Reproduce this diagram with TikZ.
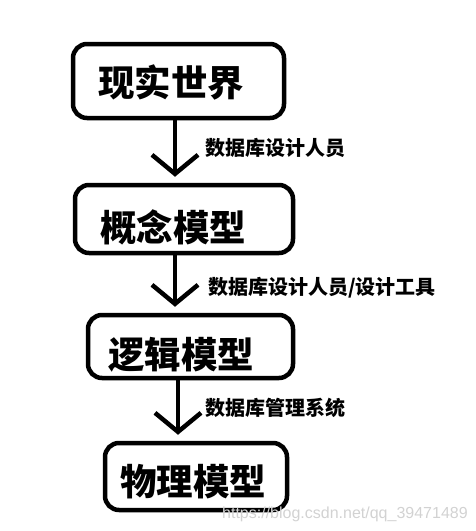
\documentclass[tikz,border=0pt]{standalone}
\usepackage{fontspec,xcolor}
\usetikzlibrary{arrows.meta}
\setmainfont{Noto Sans CJK SC}
\newfontfamily\wzfont{Liberation Sans}
\definecolor{ink}{HTML}{000000}
\definecolor{wzgrau}{HTML}{D2D2D2}
\newcommand{\titel}{\fontsize{36.5}{40}\selectfont\bfseries}
\newcommand{\klein}{\fontsize{20}{22}\selectfont\bfseries}
\tikzset{kasten/.style={draw=ink,line width=4.5pt,rounded corners=14pt,inner sep=0},
  pfeil/.style={ink,line width=4.5pt,shorten >=6pt,
    -{Straight Barb[length=19pt,width=46pt]}},
  beschr/.style={anchor=west,inner sep=0,text=ink,font=\klein},
  titeltext/.style={anchor=west,inner sep=0,text=ink,font=\titel}}

\begin{document}
\begin{tikzpicture}[x=1pt,y=-1pt]
\useasboundingbox (0,0) rectangle (475,531);
\node[kasten,minimum width=211,minimum height=74] (k1) at (178.5,81) {};
\node[titeltext] (t1) at (98,82) {现实世界};
\node[kasten,minimum width=218,minimum height=68] (k2) at (184,219) {};
\node[titeltext] (t2) at (100,227) {概念模型};
\node[kasten,minimum width=205,minimum height=63] (k3) at (190.5,346.5) {};
\node[titeltext] (t3) at (108,355) {逻辑模型};
\node[kasten,minimum width=182,minimum height=67] (k4) at (196,476.5) {};
\node[titeltext] (t4) at (120,482) {物理模型};
\coordinate (s1) at (175,0);
\coordinate (s2) at (175,0);
\coordinate (s3) at (178,0);
\draw[pfeil] (k1.south -| s1) -- (k2.north -| s1);
\draw[pfeil] (k2.south -| s2) -- (k3.north -| s2);
\draw[pfeil] (k3.south -| s3) -- (k4.north -| s3);
\node[beschr] (l1) at (205,148) {数据库设计人员};
\node[beschr] (l2) at (208,288) {数据库设计人员/设计工具};
\node[beschr] (l3) at (205,408) {数据库管理系统};
\node[anchor=base west,inner sep=0,text=wzgrau,font=\wzfont\fontsize{16}{18}\selectfont] (wz) at (222,518) {https://blog.csdn.net/qq\_39471489};
\end{tikzpicture}
\end{document}
